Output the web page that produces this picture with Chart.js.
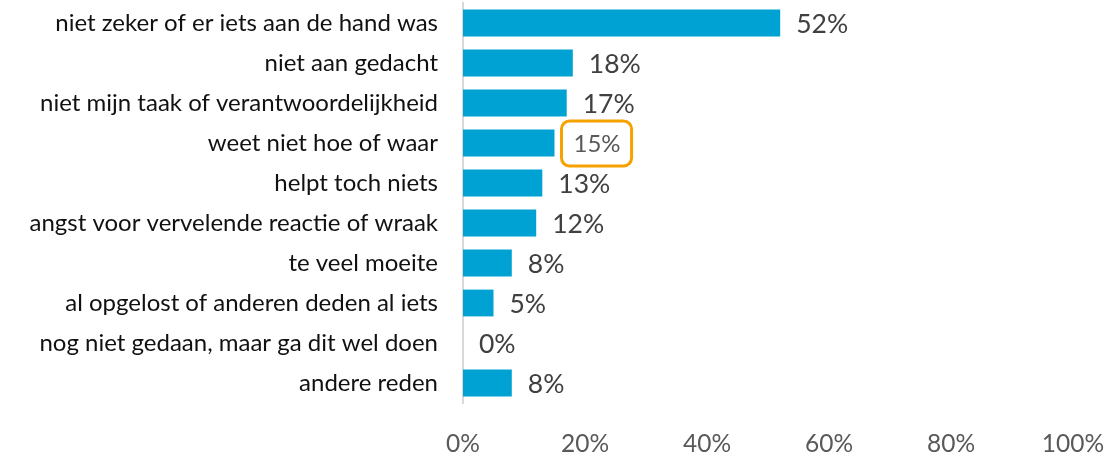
<!DOCTYPE html>
<html><head><meta charset="utf-8">
<script src="https://cdn.jsdelivr.net/npm/chart.js@4/dist/chart.umd.min.js"></script>
<style>html,body{margin:0;padding:0;background:#fff}#wrap{width:1112px;height:456px}</style>
</head><body><div id="wrap"><canvas id="c" width="1112" height="456"></canvas></div>
<script>
const categories = [
  "niet zeker of er iets aan de hand was",
  "niet aan gedacht",
  "niet mijn taak of verantwoordelijkheid",
  "weet niet hoe of waar",
  "helpt toch niets",
  "angst voor vervelende reactie of wraak",
  "te veel moeite",
  "al opgelost of anderen deden al iets",
  "nog niet gedaan, maar ga dit wel doen",
  "andere reden"
];
const values = [52, 18, 17, 15, 13, 12, 8, 5, 0, 8];
const highlightIndex = 3;
const xTicks = [0, 20, 40, 60, 80, 100];

const FONT = "Lato, 'Open Sans', sans-serif";

const labelPlugin = {
  id: 'valLabels',
  afterDatasetsDraw(chart) {
    const ctx = chart.ctx;
    const meta = chart.getDatasetMeta(0);
    const xs = chart.scales.x;
    ctx.save();
    meta.data.forEach((bar, i) => {
      const v = values[i];
      const x = xs.getPixelForValue(v);
      const y = bar.y;
      const txt = v + '%';
      ctx.textBaseline = 'middle';
      ctx.textAlign = 'left';
      if (i === highlightIndex) {
        ctx.font = "24px " + FONT;
        ctx.fillStyle = '#595959';
        const tx = x + 19;
        const w = ctx.measureText(txt).width;
        ctx.fillText(txt, tx, y + 1);
        const bx = tx - 12, by = y - 22, bw = w + 23, bh = 45, r = 8;
        ctx.strokeStyle = '#F5A200';
        ctx.lineWidth = 3;
        ctx.beginPath();
        ctx.roundRect(bx, by, bw, bh, r);
        ctx.stroke();
      } else {
        ctx.font = "26.5px " + FONT;
        ctx.fillStyle = '#404040';
        ctx.fillText(txt, x + 16, y + 1);
      }
    });
    ctx.restore();
  }
};

new Chart(document.getElementById('c'), {
  type: 'bar',
  data: {
    labels: categories,
    datasets: [{
      data: values,
      backgroundColor: '#00A2D3',
      borderWidth: 0,
      barPercentage: 0.67,
      categoryPercentage: 1.0
    }]
  },
  options: {
    indexAxis: 'y',
    responsive: false,
    animation: false,
    layout: { padding: { top: 3, right: 0, left: 0, bottom: 0 } },
    plugins: { legend: { display: false }, tooltip: { enabled: false } },
    scales: {
      x: {
        min: 0, max: 100,
        afterBuildTicks(scale) { scale.ticks = xTicks.map(v => ({ value: v })); },
        afterFit(scale) { scale.height = 53; scale.paddingRight = 39; scale.paddingLeft = 0; },
        grid: { display: false, drawTicks: false },
        border: { display: false },
        ticks: {
          padding: 26,
          color: '#595959',
          font: { size: 24.5, family: FONT },
          callback: v => v + '%'
        }
      },
      y: {
        afterFit(scale) { scale.width = 463; scale.paddingTop = 0; scale.paddingBottom = 0; },
        grid: { display: false, drawTicks: false },
        border: { display: true, color: '#D9D9D9', width: 2 },
        ticks: {
          padding: 25,
          color: '#111111',
          font: { size: 24, family: FONT }
        }
      }
    }
  },
  plugins: [labelPlugin]
});
</script>
</body></html>
